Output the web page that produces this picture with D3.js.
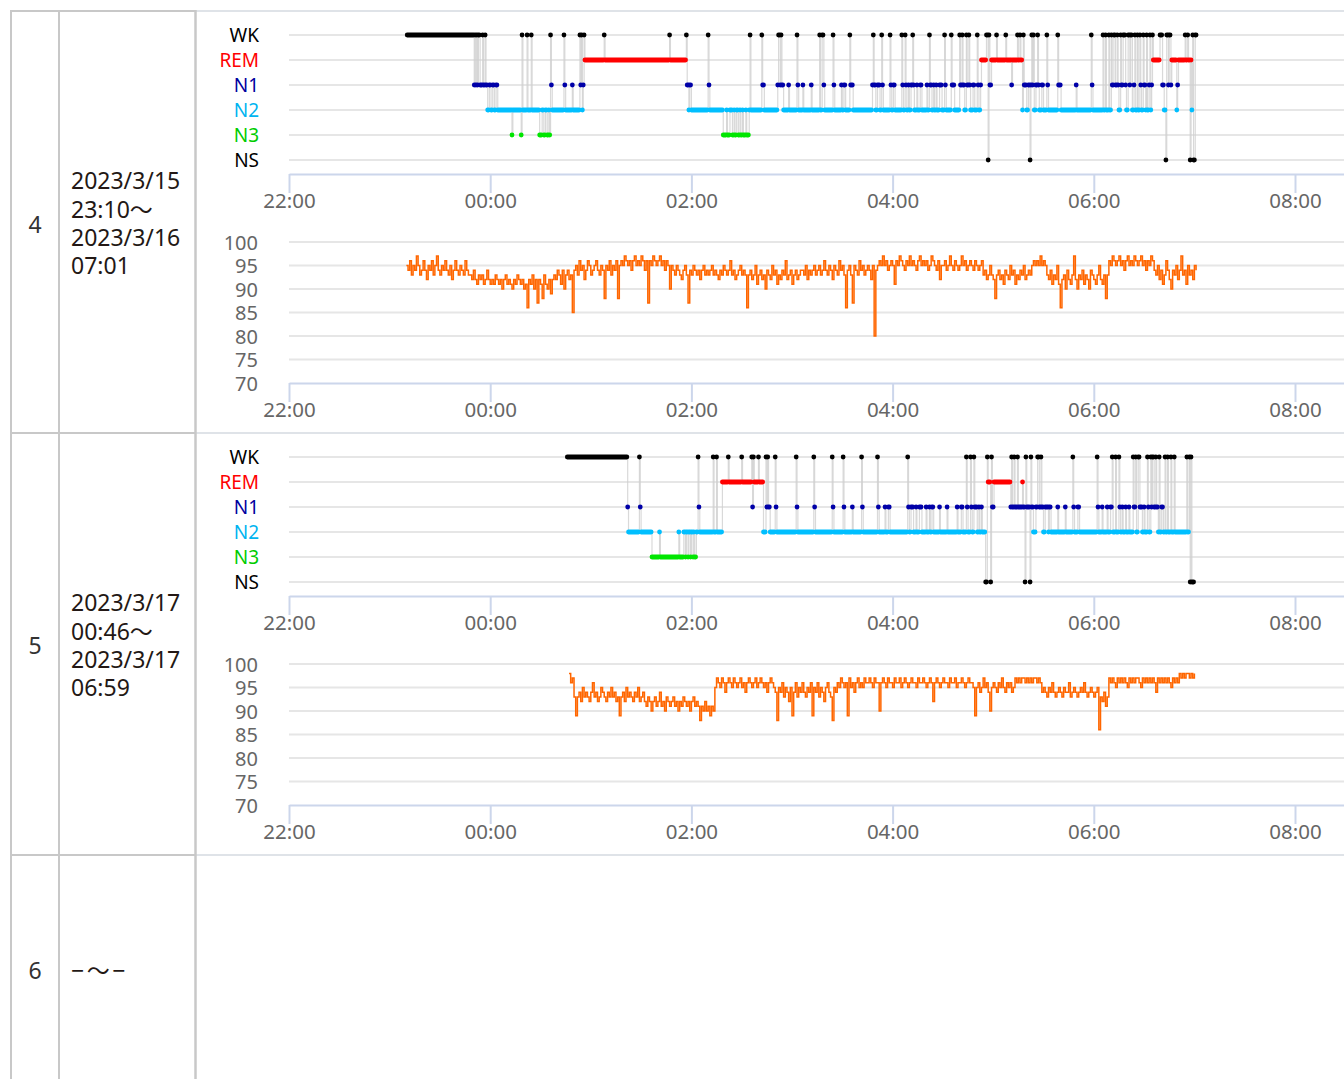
<!DOCTYPE html>
<html><head><meta charset="utf-8">
<script src="https://cdn.jsdelivr.net/npm/d3@7"></script>
<style>
html,body{margin:0;padding:0;background:#fff;overflow:hidden}
svg{display:block}
text{font-family:"Noto Sans","Noto Sans CJK JP",sans-serif}
</style></head><body>
<svg id="c" width="1344" height="1079"></svg>
<script>
// ---------- data ----------
const stages = ["WK","REM","N1","N2","N3","NS"];
const stageDotColors = ["#000000","#ff0000","#0000a8","#00bfff","#00e600","#000000"];
const stageLabelColors = ["#000000","#ff0000","#0000a0","#00b4f0","#00cc00","#000000"];
const timeTicks = [0,120,240,360,480,600];           // minutes after 22:00
const timeTickLabels = ["22:00","00:00","02:00","04:00","06:00","08:00"];
const spo2Ticks = [100,95,90,85,80,75,70];
const rowNumbers = ["4","5","6"];
const rowDateLines = [
  ["2023/3/15","23:10～","2023/3/16","07:01"],
  ["2023/3/17","00:46～","2023/3/17","06:59"],
  ["−～−"]
];

// hypnogram: [minutes after 22:00 when stage begins, stage]; last entry = end of record
const hypno1 = [
[70.5,"WK"],[110.5,"N1"],[111,"WK"],[111.5,"N1"],[112,"WK"],[112.5,"N1"],[113,"WK"],[114,"N1"],[115.5,"WK"],[116,"N1"],[117,"WK"],[117.5,"N1"],
[118.5,"N2"],[119.5,"N1"],[120.5,"N2"],[121.5,"N1"],[122.5,"N2"],[123.5,"N1"],[124.5,"N2"],
[133,"N3"],[133.5,"N2"],[138.5,"N3"],[139,"WK"],[139.5,"N2"],[142,"WK"],[142.5,"N2"],[144.5,"WK"],[145,"N2"],
[149.5,"N3"],[151,"N2"],[152,"N3"],[153,"N2"],[154,"N3"],[155,"N2"],[155.5,"N3"],[156,"WK"],[156.5,"N1"],[157,"N2"],
[164,"WK"],[164.5,"N1"],[165,"N2"],[169,"N1"],[169.5,"N2"],
[173.5,"WK"],[174,"N1"],[174.5,"WK"],[175,"N2"],[175.5,"N1"],[176,"WK"],[176.5,"REM"],
[188,"WK"],[188.5,"REM"],[227,"WK"],[227.5,"REM"],[237,"WK"],[237.5,"N1"],[238.5,"N2"],[239,"N1"],[240,"N2"],
[250,"WK"],[250.5,"N1"],[251,"N2"],
[259,"N3"],[261,"N2"],[261.5,"N3"],[263,"N2"],[264.5,"N3"],[265.5,"N2"],[266,"N3"],[267,"N2"],[268,"N3"],[269,"N2"],[269.5,"N3"],[270.5,"N2"],[271,"N3"],[272.5,"N2"],[273,"N3"],[274.5,"N2"],
[275,"WK"],[275.5,"N2"],[282,"WK"],[282.5,"N1"],[283.5,"N2"],
[291.5,"N1"],[292,"WK"],[293,"N1"],[293.5,"WK"],[294,"N1"],[295,"N2"],[298,"N1"],[298.5,"N2"],
[303,"WK"],[303.5,"N1"],[304,"N2"],[306.5,"N1"],[307,"N2"],[311.5,"N1"],[312,"N2"],
[316.5,"WK"],[317,"N2"],[318,"WK"],[319,"N1"],[319.5,"N2"],[324.5,"WK"],[325,"N1"],[325.5,"N2"],
[329.5,"N1"],[330,"N2"],[331,"N1"],[332,"N2"],[334.5,"WK"],[335,"N1"],[336.5,"N2"],
[348,"N1"],[348.5,"WK"],[349,"N1"],[350,"N2"],[351,"N1"],[352.5,"N2"],[353.5,"WK"],[354,"N1"],[354.5,"N2"],
[358.5,"WK"],[359,"N1"],[359.5,"N2"],[360.5,"N1"],[361.5,"N2"],
[365.5,"WK"],[366,"N1"],[366.5,"N2"],[367.5,"WK"],[368,"N1"],[368.5,"N2"],
[369.5,"N1"],[370,"N2"],[371,"N1"],[372,"WK"],[372.5,"N1"],[373,"N2"],[374.5,"N1"],[375,"N2"],[376.5,"N1"],[377.5,"N2"],
[380.5,"N1"],[381,"N2"],[382,"WK"],[382.5,"N1"],[383.5,"N2"],[384.5,"N1"],[385,"N2"],[386,"N1"],[386.5,"N2"],[388,"N1"],[389.5,"N2"],
[391,"WK"],[391.5,"N1"],[392,"N2"],[395,"WK"],[395.5,"N1"],[397,"N2"],
[400,"WK"],[400.5,"N1"],[401.5,"WK"],[402,"N1"],[403,"N2"],[404,"WK"],[404.5,"N1"],[405.5,"WK"],[406,"N1"],[406.5,"N2"],
[408,"N1"],[409,"N2"],[410.5,"WK"],[411,"N1"],[411.5,"N2"],[412.5,"N1"],
[413,"REM"],[416,"WK"],[417,"NS"],[417.5,"WK"],[418,"N1"],[419,"REM"],
[422,"WK"],[422.5,"REM"],[427.5,"WK"],[428,"REM"],[431,"N1"],[431.5,"REM"],
[434.5,"WK"],[435,"REM"],[436,"WK"],[436.5,"REM"],[437.5,"N2"],[438,"WK"],[438.5,"N1"],
[440,"N2"],[441,"N1"],[442,"NS"],[442.5,"N1"],[443,"WK"],[443.5,"N1"],[444,"WK"],[444.5,"N2"],[445.5,"N1"],[446.5,"WK"],[447,"N1"],[447.5,"N2"],
[449,"N1"],[450,"N2"],[452,"WK"],[452.5,"N1"],[453,"N2"],
[458.5,"WK"],[459,"N1"],[460.5,"N2"],[469.5,"N1"],[470,"N2"],[478.5,"WK"],[479,"N1"],[479.5,"N2"],
[485.5,"WK"],[486,"N2"],[487,"WK"],[487.5,"N2"],[489,"WK"],[489.5,"N2"],[490.5,"WK"],[491,"N1"],[492,"WK"],[493,"N1"],[494,"WK"],[494.5,"N1"],[495,"N2"],[496,"WK"],[496.5,"N1"],
[497.5,"WK"],[499,"N1"],[499.5,"N2"],[500.5,"WK"],[501.5,"N1"],[502,"WK"],[503,"N2"],[504,"N1"],[504.5,"WK"],[505,"N2"],[506,"WK"],[506.5,"N2"],
[507.5,"WK"],[508,"N1"],[508.5,"N2"],[509.5,"WK"],[510,"N1"],[511,"N2"],[511.5,"WK"],[512,"N2"],[513,"N1"],[513.5,"WK"],[514,"N2"],[514.5,"N1"],[515,"WK"],
[515.5,"REM"],[519.5,"WK"],[521,"N1"],[522,"N2"],[523,"NS"],[523.5,"WK"],[524.5,"N1"],[525,"WK"],[526,"N1"],
[526.5,"REM"],[529.5,"N2"],[530,"N1"],[530.5,"REM"],[534.5,"WK"],[535,"REM"],[536,"WK"],[536.5,"REM"],[537.5,"NS"],[538,"REM"],[538.5,"N2"],[539,"WK"],[539.5,"NS"],[540.5,"WK"],
[541.5,null]
];

const hypno2 = [
[166,"WK"],[202,"N1"],[202.5,"N2"],[209,"WK"],[209.5,"N1"],[210,"N2"],[216.5,"N3"],[221,"N2"],[221.5,"N3"],[232.5,"N2"],[233,"N3"],
[235.5,"N2"],[236.5,"N3"],[237,"N2"],[238,"N3"],[238.5,"N2"],[239.5,"N3"],[240,"N2"],[241,"N3"],[241.5,"N2"],[242,"N3"],[243,"N2"],
[244,"WK"],[244.5,"N1"],[245,"N2"],[253,"WK"],[253.5,"N2"],[255,"WK"],[255.5,"N2"],
[258.5,"REM"],[262,"WK"],[262.5,"REM"],[270,"WK"],[270.5,"REM"],[276,"WK"],[276.5,"N1"],[277,"WK"],[277.5,"REM"],[280,"WK"],[280.5,"REM"],
[283,"N2"],[284.5,"WK"],[285,"N1"],[285.5,"WK"],[286,"N1"],[287,"N2"],[290,"WK"],[290.5,"N1"],[291,"N2"],
[302.5,"WK"],[303,"N1"],[303.5,"N2"],[313,"WK"],[313.5,"N1"],[314,"N2"],[324,"WK"],[324.5,"N1"],[325,"N2"],
[330.5,"WK"],[331,"N1"],[331.5,"N2"],[336,"N1"],[336.5,"N2"],[341.5,"WK"],[342,"N1"],[342.5,"N2"],
[351,"WK"],[351.5,"N1"],[352,"N2"],[355.5,"N1"],[356,"N2"],[357.5,"N1"],[358.5,"N2"],
[369,"WK"],[369.5,"N1"],[370,"N2"],[371,"N1"],[372.5,"N2"],[374,"N1"],[374.5,"N2"],[376,"N1"],[377.5,"N2"],
[380,"N1"],[380.5,"N2"],[382,"N1"],[382.5,"N2"],[383.5,"N1"],[384.5,"N2"],[388,"N1"],[388.5,"N2"],[392.5,"N1"],[393,"N2"],
[398.5,"N1"],[399,"N2"],[401,"N1"],[402,"N2"],
[404,"WK"],[404.5,"N1"],[405,"N2"],[406.5,"WK"],[407,"N1"],[407.5,"N2"],[408.5,"WK"],[409,"N1"],[410.5,"N2"],[411.5,"N1"],[412,"N2"],[413,"N1"],[413.5,"N2"],
[415.5,"NS"],[416.5,"WK"],[417,"REM"],[418.5,"NS"],[419,"WK"],[419.5,"N1"],[420.5,"REM"],
[430.5,"N1"],[431,"WK"],[431.5,"N1"],[432.5,"WK"],[433,"N1"],[434.5,"WK"],[435,"N1"],[437.5,"REM"],[438,"N1"],
[439,"NS"],[439.5,"WK"],[440,"N1"],[442,"NS"],[442.5,"WK"],[443,"N1"],[444,"N2"],[445.5,"N1"],[446.5,"WK"],[447.5,"N1"],[448.5,"WK"],[449,"N1"],
[450,"N2"],[451,"N1"],[453,"N2"],[453.5,"N1"],[454.5,"N2"],[458.5,"N1"],[459,"N2"],[463,"N1"],[463.5,"N2"],[467.5,"WK"],[468,"N1"],[468.5,"N2"],[470.5,"N1"],[471.5,"N2"],
[482,"WK"],[482.5,"N1"],[483,"N2"],[485,"N1"],[485.5,"N2"],[488,"N1"],[488.5,"N2"],[490,"N1"],[491,"WK"],[491.5,"N2"],[493,"WK"],[493.5,"N2"],
[495,"WK"],[495.5,"N1"],[496,"N2"],[497,"N1"],[497.5,"N2"],[499,"N1"],[499.5,"N2"],[501,"N1"],[501.5,"N2"],
[503.5,"WK"],[504,"N1"],[505,"WK"],[505.5,"N2"],[506.5,"WK"],[507.5,"N1"],[509,"N2"],[510,"N1"],[510.5,"N2"],
[512,"WK"],[512.5,"N1"],[513,"N2"],[514,"WK"],[514.5,"N1"],[515,"WK"],[516,"N1"],[517,"WK"],[517.5,"N1"],[518.5,"N2"],[519,"WK"],[519.5,"N2"],
[520.5,"N1"],[521.5,"N2"],[522.5,"WK"],[523,"N2"],[524,"WK"],[524.5,"N2"],[526,"WK"],[526.5,"N2"],[528,"WK"],[528.5,"N2"],
[535.5,"WK"],[536,"N2"],[537,"WK"],[537.5,"NS"],[538,"WK"],[538.5,"NS"],
[540,null]
];

// SpO2 (%), one value per minute, starting at spo2Start (minutes after 22:00)
const spo2Start1 = 70;
const spo2Values1 = [
95,94,96,93,95,94,97,95,93,94,96,94,92,95,94,96,93,95,97,94,93,95,94,96,94,93,95,92,94,96,94,93,95,94,93,96,94,93,
93,92,94,92,91,93,92,93,91,92,94,92,91,
92,91,93,92,91,92,90,92,93,91,92,91,90,92,91,93,92,91,92,90,91,
86,92,91,93,90,92,87,92,91,88,93,91,90,92,89,92,
93,92,94,93,91,94,90,93,94,92,93,
85,
94,95,93,96,94,95,92,94,96,95,93,94,95,96,94,93,95,94,
88,95,94,96,93,95,94,96,88,95,
96,95,97,96,95,96,94,96,97,95,96,95,97,96,94,96,
87,96,95,97,96,95,96,97,95,96,94,96,95,90,95,
94,93,95,94,93,92,94,95,93,87,
94,93,95,94,93,94,92,94,95,93,94,93,94,95,93,94,93,92,94,93,95,94,93,94,96,93,94,92,93,94,95,93,94,
93,86,93,94,92,93,95,91,93,94,92,93,90,94,93,92,95,93,94,91,93,92,94,93,96,92,93,94,91,93,94,92,93,94,
94,93,95,92,94,93,94,95,93,
94,95,93,94,96,94,93,95,94,92,95,94,93,96,94,95,93,86,94,95,93,87,95,94,93,96,94,95,93,94,95,94,92,95,80,94,95,
96,95,97,95,96,94,95,96,95,91,
96,95,97,96,95,94,96,95,97,95,96,95,94,96,97,95,96,95,96,94,95,97,96,95,94,96,92,95,
95,96,94,95,97,95,94,96,95,94,95,97,95,96,94,95,96,95,94,96,95,94,95,96,
93,94,92,93,95,93,92,88,
93,94,92,93,91,94,93,92,95,93,94,91,93,92,94,93,95,92,93,94,93,
95,96,95,96,95,97,95,96,95,
93,92,94,91,93,92,95,91,86,
92,93,90,94,92,91,93,97,92,90,93,92,94,91,93,92,90,94,93,92,91,93,95,92,91,93,88,93,
96,95,97,96,95,96,97,95,96,94,96,97,95,96,95,97,96,95,96,97,95,96,94,96,95,97,96,
94,93,95,92,94,91,93,96,94,92,90,94,93,95,92,94,97,93,94,91,95,93,94,92,95,94
];
const spo2Start2 = 167;
const spo2Values2 = [
98,96,97,93,89,
93,94,92,95,93,94,93,92,94,96,93,94,92,93,95,94,93,92,94,93,95,93,94,92,93,
89,93,94,92,95,93,94,93,92,94,93,95,92,93,94,
92,91,93,92,90,92,93,91,92,94,91,92,90,93,92,91,92,93,91,92,90,92,91,93,92,91,92,90,92,93,91,92,91,
88,91,90,92,90,91,89,91,90,
95,97,96,95,97,96,94,96,97,96,95,97,96,95,96,97,95,96,94,96,97,96,95,96,97,95,96,97,96,95,96,94,96,97,96,
95,94,88,95,94,96,93,95,94,92,95,89,
94,96,93,95,94,96,94,93,95,94,96,89,
95,94,96,93,95,94,92,95,96,94,93,88,95,94,
96,95,97,96,95,96,89,97,95,96,94,96,97,95,96,95,97,96,
96,97,96,95,97,96,96,90,
96,97,96,95,97,96,96,95,97,96,96,97,95,96,97,96,95,96,97,96,96,95,97,96,96,97,96,95,96,97,96,92,
96,97,96,95,96,97,96,96,95,97,96,96,97,95,96,96,97,96,95,96,97,96,96,95,89,
95,96,94,95,97,95,96,94,90,95,96,95,94,96,95,97,95,94,96,95,96,94,95,
97,96,97,96,97,97,96,97,96,97,96,97,97,96,97,96,
94,95,94,93,95,94,96,94,93,94,95,94,93,95,94,94,96,93,94,95,94,93,94,95,94,96,94,93,94,95,94,93,94,95,
86,93,92,94,91,93,
97,96,97,96,95,97,96,97,96,97,96,95,97,96,97,96,97,97,96,95,97,96,97,96,97,96,97,96,94,97,96,97,96,97,96,97,96,95,97,96,97,96,
98,97,98,97,98,98,97,98,97,98
];
const nights = [
  {hypno: hypno1, spo2Start: spo2Start1, spo2: spo2Values1},
  {hypno: hypno2, spo2Start: spo2Start2, spo2: spo2Values2}
];

// ---------- drawing ----------
const W = 1344, H = 1079;
const svg = d3.select("#c");
svg.append("rect").attr("width",W).attr("height",H).attr("fill","#fff");

const rowTops = [11, 433, 855];
const colX = [11, 59, 195.5];

const x = d3.scaleLinear().domain([0, 630]).range([289, 289 + 630 * 100.6 / 60]);
const chartRight = W;
const FONT = '"Noto Sans","Noto Sans CJK JP",sans-serif';

const minToLabel = (d) => timeTickLabels[timeTicks.indexOf(d)];

function drawXAxis(g, y) {
  const ax = d3.axisBottom(x).tickValues(timeTicks).tickFormat(minToLabel).tickSize(19).tickSizeOuter(0);
  const a = g.append("g").attr("transform", `translate(0,${y})`).call(ax);
  a.select(".domain").attr("stroke", "#ccd6eb").attr("stroke-width", 2);
  a.selectAll(".tick line").attr("stroke", "#ccd6eb").attr("stroke-width", 2);
  a.selectAll(".tick text").attr("y", 27).attr("dy", "0.36em")
    .attr("fill", "#666").attr("font-size", 20.5).attr("font-family", FONT);
}

nights.forEach((night, r) => {
  const oy = rowTops[r] - 11;
  const g = svg.append("g");

  // ---- hypnogram ----
  const yS = d3.scalePoint().domain(stages).range([35 + oy, 160 + oy]);
  g.append("g").selectAll("line").data(stages).join("line")
    .attr("x1", 289).attr("x2", chartRight)
    .attr("y1", d => yS(d)).attr("y2", d => yS(d))
    .attr("stroke", "#e6e6e6").attr("stroke-width", 2);
  g.append("g").selectAll("text").data(stages).join("text")
    .attr("x", 259).attr("y", d => yS(d)).attr("dy", "0.36em")
    .attr("text-anchor", "end").attr("font-size", 19).attr("font-family", FONT)
    .attr("fill", (d, i) => stageLabelColors[i]).text(d => d);

  const h = night.hypno;
  // transition connectors
  const trans = d3.range(1, h.length - 1).map(i => ({t: h[i][0], a: h[i - 1][1], b: h[i][1]}));
  g.append("g").selectAll("line").data(trans).join("line")
    .attr("x1", d => x(d.t)).attr("x2", d => x(d.t))
    .attr("y1", d => yS(d.a)).attr("y2", d => yS(d.b))
    .attr("stroke", "#cfcfcf").attr("stroke-opacity", 0.8).attr("stroke-width", 1.2);
  // stage runs (epoch markers)
  const runs = d3.range(0, h.length - 1).map(i => ({s: h[i][0], e: h[i + 1][0] - 0.5, st: h[i][1]}));
  const rr = 2.4;
  g.append("g").selectAll("rect").data(runs).join("rect")
    .attr("x", d => x(d.s) - rr).attr("width", d => Math.max(0, x(d.e) - x(d.s)) + 2 * rr)
    .attr("y", d => yS(d.st) - rr).attr("height", 2 * rr).attr("rx", rr)
    .attr("fill", d => stageDotColors[stages.indexOf(d.st)]);

  drawXAxis(g, 174 + oy);

  // ---- SpO2 ----
  const yO = d3.scaleLinear().domain([70, 100]).range([383 + oy, 242 + oy]);
  g.append("g").selectAll("line").data(spo2Ticks.filter(v => v > 70)).join("line")
    .attr("x1", 289).attr("x2", chartRight)
    .attr("y1", d => yO(d)).attr("y2", d => yO(d))
    .attr("stroke", "#e6e6e6").attr("stroke-width", 2);
  const ay = d3.axisLeft(yO).tickValues(spo2Ticks).tickSize(0).tickPadding(31);
  const ya = g.append("g").attr("transform", "translate(289,0)").call(ay);
  ya.select(".domain").remove();
  ya.selectAll("text").attr("fill", "#666").attr("font-size", 20).attr("font-family", FONT).attr("dy", "0.36em");

  const line = d3.line().x((d, i) => x(night.spo2Start + i)).y(d => yO(d)).curve(d3.curveStepAfter);
  g.append("path").datum(night.spo2).attr("d", line)
    .attr("fill", "none").attr("stroke", "#ff6600").attr("stroke-width", 1.5);

  drawXAxis(g, 383 + oy);
});

// ---------- table ----------
const tg = svg.append("g");
const borderC = "#c8c8c8", lightC = "#dfe3e8";
rowTops.forEach(y => {
  tg.append("line").attr("x1", colX[0]).attr("x2", colX[2]).attr("y1", y).attr("y2", y).attr("stroke", borderC).attr("stroke-width", 2);
  tg.append("line").attr("x1", colX[2]).attr("x2", W).attr("y1", y).attr("y2", y).attr("stroke", lightC).attr("stroke-width", 2);
});
colX.forEach((cx, i) => {
  tg.append("line").attr("x1", cx).attr("x2", cx).attr("y1", rowTops[0] - 1).attr("y2", H)
    .attr("stroke", borderC).attr("stroke-width", i === 2 ? 2.5 : 2);
});

const numCY = [225, 646, 971];
rowNumbers.forEach((n, i) => {
  tg.append("text").attr("x", 35).attr("y", numCY[i]).attr("dy", "0.36em")
    .attr("text-anchor", "middle").attr("font-size", 23).attr("font-family", FONT).attr("fill", "#333").text(n);
});
const dateOffsets = [169.5, 199, 227, 254.5];
rowDateLines.forEach((lines, i) => {
  lines.forEach((t, j) => {
    const cy = lines.length === 1 ? numCY[i] : rowTops[i] + dateOffsets[j];
    tg.append("text").attr("x", 71).attr("y", cy).attr("dy", "0.36em")
      .attr("font-size", 23).attr("font-family", FONT).attr("fill", "#231815")
      .attr("letter-spacing", lines.length === 1 ? 2.5 : 0).text(t);
  });
});
</script>
</body></html>
